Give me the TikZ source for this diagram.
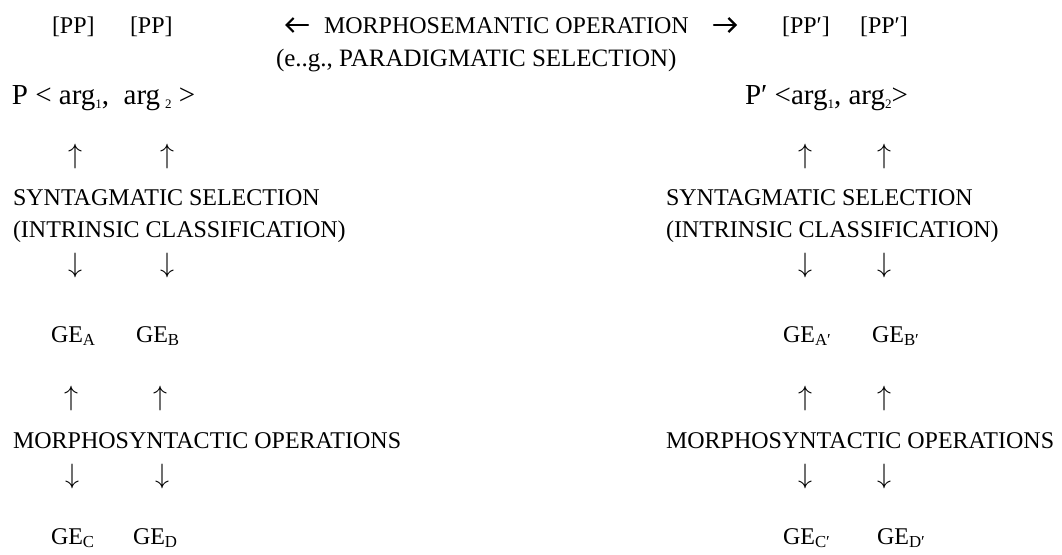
\RequirePackage{fix-cm}
\documentclass[tikz,border=0pt]{standalone}
\usepackage{fontspec}
\setmainfont{Liberation Serif}
\usetikzlibrary{arrows.meta}
\tikzset{
  txt/.style={anchor=base west, inner sep=0pt, outer sep=0pt, font=\fontsize{24}{28}\selectfont},
  ptxt/.style={anchor=base west, inner sep=0pt, outer sep=0pt, font=\fontsize{29}{32}\selectfont},
  arr/.style={anchor=center, inner sep=0pt, outer sep=0pt, font=\fontsize{28}{30}\selectfont},
  boldarr/.style={line width=2.2pt, line cap=round, -{Straight Barb[length=7pt,width=14pt,line width=2.2pt]}}
}
\newcommand{\sbs}[1]{\textsubscript{#1}}
\newcommand{\psb}[1]{\raisebox{-4pt}{\fontsize{13}{14}\selectfont #1}}
\newcommand{\upa}{$\uparrow$}
\newcommand{\dna}{$\downarrow$}
\begin{document}
\begin{tikzpicture}[x=1pt,y=-1pt]
\useasboundingbox (0,0) rectangle (1062,554);
% top row
\node[txt] (pp1) at (52,33) {[PP]};
\node[txt] (pp2) at (130,33) {[PP]};
\node[txt] (mso) at (324,33) {MORPHOSEMANTIC OPERATION};
\node[txt] (pq1) at (782,33) {[PP\char"2032]};
\node[txt] (pq2) at (860,33) {[PP\char"2032]};
\coordinate (la1) at (308,25);
\coordinate (la2) at (285,25);
\coordinate (ra1) at (714,25);
\coordinate (ra2) at (737,25);
\draw[boldarr] (la1) -- (la2);
\draw[boldarr] (ra1) -- (ra2);
\node[txt, font=\fontsize{25}{28}\selectfont] (eg) at (276,66) {(e..g., PARADIGMATIC SELECTION)};
% predicate row
\node[ptxt] (pl) at (12,104) {P < arg\psb{1},\ \ arg\,\psb{2} >};
\node[ptxt] (pr) at (745,104) {P\char"2032\ <arg\psb{1}, arg\psb{2}>};
% left column
\node[arr] (ua1) at (75,156) {\upa};
\node[arr] (ua2) at (167,156) {\upa};
\node[txt] (ss1) at (13,205) {SYNTAGMATIC SELECTION};
\node[txt] (ic1) at (13,237) {(INTRINSIC CLASSIFICATION)};
\node[arr] (da1) at (75,265) {\dna};
\node[arr] (da2) at (167,265) {\dna};
\node[txt] (gea) at (51,342) {GE\sbs{A}};
\node[txt] (geb) at (136,342) {GE\sbs{B}};
\node[arr] (ua3) at (71,398) {\upa};
\node[arr] (ua4) at (160,398) {\upa};
\node[txt] (mo1) at (13,448) {MORPHOSYNTACTIC OPERATIONS};
\node[arr] (da3) at (72,476) {\dna};
\node[arr] (da4) at (162,476) {\dna};
\node[txt] (gec) at (51,544) {GE\sbs{C}};
\node[txt] (ged) at (133,544) {GE\sbs{D}};
% right column
\node[arr] (ua5) at (805,156) {\upa};
\node[arr] (ua6) at (884,156) {\upa};
\node[txt] (ss2) at (666,205) {SYNTAGMATIC SELECTION};
\node[txt] (ic2) at (666,237) {(INTRINSIC CLASSIFICATION)};
\node[arr] (da5) at (805,265) {\dna};
\node[arr] (da6) at (884,265) {\dna};
\node[txt] (gea2) at (783,342) {GE\sbs{A\char"2032}};
\node[txt] (geb2) at (872,342) {GE\sbs{B\char"2032}};
\node[arr] (ua7) at (805,398) {\upa};
\node[arr] (ua8) at (884,398) {\upa};
\node[txt] (mo2) at (666,448) {MORPHOSYNTACTIC OPERATIONS};
\node[arr] (da7) at (805,476) {\dna};
\node[arr] (da8) at (884,476) {\dna};
\node[txt] (gec2) at (783,544) {GE\sbs{C\char"2032}};
\node[txt] (ged2) at (877,544) {GE\sbs{D\char"2032}};
\end{tikzpicture}
\end{document}
